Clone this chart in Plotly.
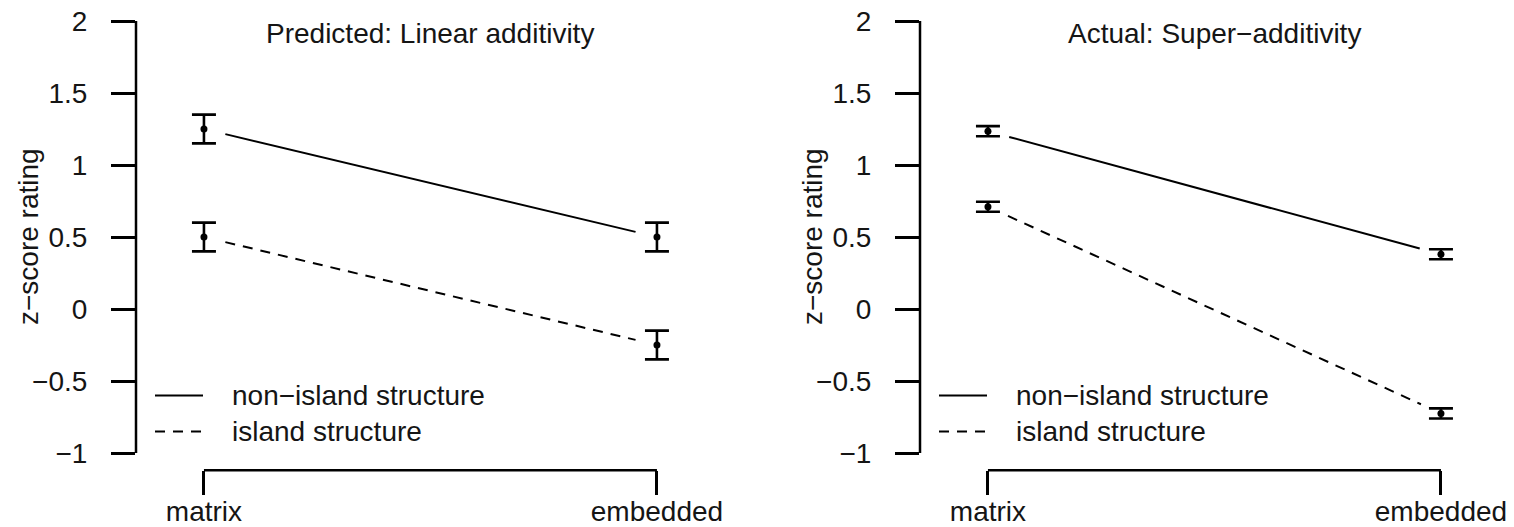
import math
import plotly.graph_objects as go

# ---------------- data ----------------
conditions = ["matrix", "embedded"]
cond_x = [1, 2]

panel_titles = ["Predicted: Linear additivity", "Actual: Super\u2212additivity"]

pred_nonisland = [1.25, 0.50]
pred_nonisland_err = [0.10, 0.10]
pred_island = [0.50, -0.25]
pred_island_err = [0.10, 0.10]

act_nonisland = [1.235, 0.38]
act_nonisland_err = [0.035, 0.035]
act_island = [0.71, -0.725]
act_island_err = [0.035, 0.035]

y_tickvals = [-1, -0.5, 0, 0.5, 1, 1.5, 2]
y_ticktext = ["\u22121", "\u22120.5", "0", "0.5", "1", "1.5", "2"]
y_title = "z\u2212score rating"
legend_labels = ["non\u2212island structure", "island structure"]

# ---------------- styling / geometry ----------------
W, H = 1514, 527
FONT = "Liberation Sans, Arial, Helvetica, sans-serif"
FS = 28
TXT = "#151515"
XR = [0.85, 2.15]
YR = [-1.12, 2.12]
PX_PER_X = 453.0
PX_PER_Y = 144.0
GAP = 22.0
DASH = "10px,8px"

panel_left_px = [136, 920]
plot_top_px = 21 - 0.12 * PX_PER_Y
plot_bot_px = 453 + 0.12 * PX_PER_Y
ydom = [1 - plot_bot_px / H, 1 - plot_top_px / H]


def gapped(xs, ys):
    """Line segment between two points, shortened at both ends (R type='b')."""
    x0, x1 = xs
    y0, y1 = ys
    L = math.hypot((x1 - x0) * PX_PER_X, (y1 - y0) * PX_PER_Y)
    t = GAP / L
    return ([x0 + t * (x1 - x0), x1 - t * (x1 - x0)],
            [y0 + t * (y1 - y0), y1 - t * (y1 - y0)])


fig = go.Figure()

panels = [
    (pred_nonisland, pred_nonisland_err, pred_island, pred_island_err),
    (act_nonisland, act_nonisland_err, act_island, act_island_err),
]

layout_axes = {}
shapes = []
annotations = []

for i, (ni, nie, isl, isle) in enumerate(panels):
    n = "" if i == 0 else str(i + 1)
    xa, ya = "x" + n, "y" + n
    left = panel_left_px[i]
    width_px = (XR[1] - XR[0]) * PX_PER_X
    xdom = [left / W, (left + width_px) / W]

    for vals, errs, dash in [(ni, nie, "solid"), (isl, isle, DASH)]:
        lx, ly = gapped(cond_x, vals)
        fig.add_trace(go.Scatter(x=lx, y=ly, mode="lines", xaxis=xa, yaxis=ya,
                                 line=dict(color="black", width=2, dash=dash),
                                 showlegend=False, hoverinfo="skip"))
        fig.add_trace(go.Scatter(x=cond_x, y=vals, mode="markers", xaxis=xa, yaxis=ya,
                                 marker=dict(color="black", size=7),
                                 error_y=dict(type="data", array=errs, visible=True,
                                              color="black", thickness=2.6, width=12),
                                 cliponaxis=False, showlegend=False))

    layout_axes["xaxis" + n] = dict(
        domain=xdom, range=XR, anchor=ya, showgrid=False, zeroline=False,
        showline=False, ticks="outside", ticklen=24, tickwidth=2.5, tickcolor="black",
        tickvals=cond_x, ticktext=conditions, ticklabelstandoff=-8, automargin=False,
        tickfont=dict(family=FONT, size=FS, color=TXT), fixedrange=True)
    layout_axes["yaxis" + n] = dict(
        domain=ydom, range=YR, anchor=xa, showgrid=False, zeroline=False,
        showline=False, ticks="outside", ticklen=24, tickwidth=2.5, tickcolor="black",
        tickvals=y_tickvals, ticktext=y_ticktext, ticklabelstandoff=18, automargin=False,
        tickfont=dict(family=FONT, size=FS, color=TXT), fixedrange=True)

    # bracket-style axis lines (R style: only across tick range)
    shapes.append(dict(type="line", xref=xa + " domain", yref=ya,
                       x0=0, x1=0, y0=y_tickvals[0], y1=y_tickvals[-1],
                       line=dict(color="black", width=2.5)))
    shapes.append(dict(type="line", xref=xa, yref=ya + " domain",
                       x0=cond_x[0], x1=cond_x[-1], y0=0, y1=0,
                       line=dict(color="black", width=2.5)))

    # legend samples
    leg_y = [-0.60, -0.85]
    for k, dash in enumerate(["solid", DASH]):
        shapes.append(dict(type="line", xref=xa + " domain", yref=ya,
                           x0=19 / width_px, x1=67 / width_px, y0=leg_y[k], y1=leg_y[k],
                           line=dict(color="black", width=2, dash=dash)))
        annotations.append(dict(xref=xa + " domain", yref=ya, x=94 / width_px, y=leg_y[k],
                                text=legend_labels[k], showarrow=False,
                                xanchor="left", yanchor="middle",
                                font=dict(family=FONT, size=FS, color=TXT)))

    # panel title
    annotations.append(dict(xref=xa + " domain", yref="paper", x=0.5, y=1 - 33 / H,
                            text=panel_titles[i], showarrow=False,
                            xanchor="center", yanchor="middle",
                            font=dict(family=FONT, size=FS, color=TXT)))
    # y-axis title
    annotations.append(dict(xref="paper", yref="paper", x=(left - 108) / W,
                            y=(ydom[0] + ydom[1]) / 2, text=y_title, textangle=-90,
                            showarrow=False, xanchor="center", yanchor="middle",
                            font=dict(family=FONT, size=FS, color=TXT)))

fig.update_layout(
    width=W, height=H, autosize=False,
    margin=dict(l=0, r=0, t=0, b=0, autoexpand=False),
    paper_bgcolor="white", plot_bgcolor="white",
    showlegend=False, shapes=shapes, annotations=annotations,
    **layout_axes,
)

fig.write_html("out.html", config={"displayModeBar": False},
               post_script="document.body.style.margin='0px';"
                           "document.body.style.overflow='hidden';")
